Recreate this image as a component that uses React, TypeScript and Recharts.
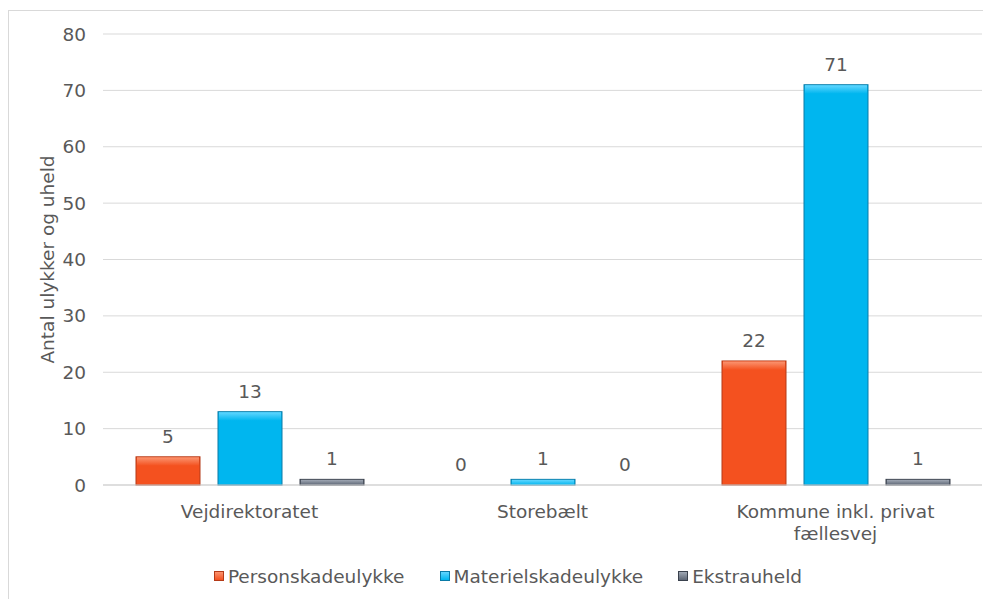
import React from 'react';
import { BarChart, Bar, XAxis, YAxis, CartesianGrid, Legend, LabelList } from 'recharts';

const categories = ['Vejdirektoratet', 'Storebælt', 'Kommune inkl. privat\nfællesvej'];
const personskade = [5, 0, 22];
const materielskade = [13, 1, 71];
const ekstrauheld = [1, 0, 1];
const yTicks = [0, 10, 20, 30, 40, 50, 60, 70, 80];

const seriesInfo = [
  { key: 'p', name: 'Personskadeulykke', base: '#f4511f', light: '#fb9470', dark: '#b43a18' },
  { key: 'm', name: 'Materielskadeulykke', base: '#00b6ef', light: '#62d6ff', dark: '#0a7aa6' },
  { key: 'e', name: 'Ekstrauheld', base: '#5d6675', light: '#a0a8b4', dark: '#3a414d' },
];

const data = categories.map((c, i) => ({
  name: c,
  p: personskade[i],
  m: materielskade[i],
  e: ekstrauheld[i],
}));

const FONT = '"DejaVu Sans", Verdana, sans-serif';
const TXT = '#595959';
const FS = 18.5;

const makeShape = (s: any) => (props: any) => {
  const { x, y, width, height, index } = props;
  if (!height || height <= 0) return <g />;
  const id = `g-${s.key}-${index}`;
  const hh = Math.min(9, height);
  return (
    <g>
      <defs>
        <linearGradient id={id} x1="0" y1="0" x2="0" y2="1">
          <stop offset="0%" stopColor={s.light} />
          <stop offset="100%" stopColor={s.base} />
        </linearGradient>
      </defs>
      <rect x={x} y={y} width={width} height={height} fill={s.base} stroke={s.dark} strokeWidth={1} />
      <rect x={x + 1} y={y + 0.5} width={width - 2} height={hh - 0.5} fill={`url(#${id})`} />
    </g>
  );
};

const XTick = (props: any) => {
  const { x, y, payload } = props;
  const lines = String(payload.value).split('\n');
  return (
    <text x={x} y={y} textAnchor="middle" fill={TXT} fontSize={FS} fontFamily={FONT}>
      {lines.map((l, i) => (
        <tspan key={i} x={x} dy={i === 0 ? 33 : 21.5}>
          {l}
        </tspan>
      ))}
    </text>
  );
};

const LegendContent = () => (
  <div
    style={{
      display: 'flex',
      justifyContent: 'center',
      alignItems: 'center',
      paddingLeft: 25,
      height: 34,
      fontFamily: FONT,
      fontSize: FS,
      color: TXT,
    }}
  >
    {seriesInfo.map((s, i) => (
      <div key={s.key} style={{ display: 'flex', alignItems: 'center', marginRight: i < seriesInfo.length - 1 ? 35 : 0 }}>
        <span
          style={{
            display: 'inline-block',
            width: 10,
            height: 10,
            background: `linear-gradient(${s.light}, ${s.base})`,
            border: `1px solid ${s.dark}`,
            boxSizing: 'border-box',
            marginRight: 4,
          }}
        />
        <span>{s.name}</span>
      </div>
    ))}
  </div>
);

const YLabel = (props: any) => {
  const vb = props.viewBox || {};
  const cx = 38;
  const cy = (vb.y ?? 23) + (vb.height ?? 451) / 2;
  return (
    <text
      x={cx}
      y={cy}
      transform={`rotate(-90, ${cx}, ${cy})`}
      textAnchor="middle"
      dominantBaseline="central"
      fill={TXT}
      fontSize={FS}
      fontFamily={FONT}
    >
      Antal ulykker og uheld
    </text>
  );
};

export default function App() {
  return (
    <div style={{ paddingTop: 2 }}>
      <div
        style={{
          borderLeft: '1px solid #d9d9d9',
          borderTop: '1px solid #d9d9d9',
          width: 982,
          height: 588,
          background: '#fff',
        }}
      >
        <BarChart
          width={982}
          height={588}
          data={data}
          margin={{ top: 23, right: 9, left: 0, bottom: 6 }}
          barSize={64}
          barGap={18}
        >
          <CartesianGrid vertical={false} stroke="#d9d9d9" strokeWidth={1} />
          <XAxis
            dataKey="name"
            height={74}
            tick={<XTick />}
            tickLine={false}
            tickSize={0}
            tickMargin={0}
            axisLine={{ stroke: '#d0d0d0' }}
            interval={0}
          />
          <YAxis
            width={94}
            domain={[0, 80]}
            ticks={yTicks}
            tickLine={false}
            axisLine={false}
            tickSize={0}
            tickMargin={17}
            tick={{ fill: TXT, fontSize: FS, fontFamily: FONT }}
            label={{ content: (p: any) => <YLabel {...p} /> }}
          />
          <Legend verticalAlign="bottom" height={34} content={<LegendContent />} />
          {seriesInfo.map((s) => (
            <Bar key={s.key} dataKey={s.key} name={s.name} fill={s.base} shape={makeShape(s)} isAnimationActive={false}>
              <LabelList
                dataKey={s.key}
                position="top"
                offset={14}
                fill={TXT}
                fontSize={FS}
                fontFamily={FONT}
              />
            </Bar>
          ))}
        </BarChart>
      </div>
    </div>
  );
}
